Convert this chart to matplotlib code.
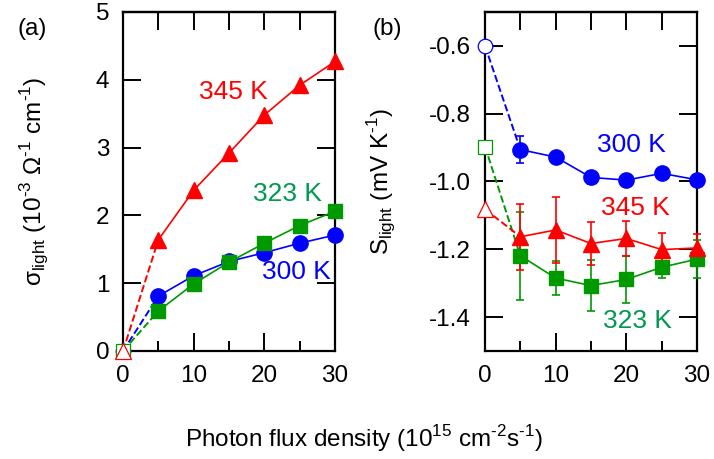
import matplotlib
matplotlib.use('Agg')
import matplotlib.pyplot as plt
import numpy as np

plt.rcParams['font.family'] = 'Liberation Sans'
plt.rcParams['mathtext.fontset'] = 'custom'
plt.rcParams['mathtext.rm'] = 'Liberation Sans'
plt.rcParams['axes.unicode_minus'] = False

RED = '#ff0000'
GREEN = '#009900'
GREEN_TXT = '#009950'
BLUE = '#0000ff'

# photon flux density (10^15 cm^-2 s^-1)
flux = [5, 10, 15, 20, 25, 30]

# (a) photoconductivity sigma_light (10^-3 Ohm^-1 cm^-1)
sig_dark = 0.0
sig_345 = [1.64, 2.37, 2.92, 3.48, 3.92, 4.27]
sig_323 = [0.59, 0.99, 1.31, 1.59, 1.85, 2.06]
sig_300 = [0.81, 1.11, 1.32, 1.45, 1.59, 1.71]

# (b) Seebeck coefficient S_light (mV K^-1), value at zero flux is the dark value
s_dark_300 = -0.60
s_dark_323 = -0.897
s_dark_345 = -1.082
s_300 = [-0.906, -0.928, -0.988, -0.996, -0.976, -0.995]
s_300_err = [0.04, 0.0, 0.02, 0.0, 0.0, 0.0]
s_345 = [-1.163, -1.143, -1.183, -1.168, -1.201, -1.196]
s_345_err = [0.097, 0.098, 0.063, 0.052, 0.05, 0.042]
s_323 = [-1.219, -1.285, -1.307, -1.289, -1.253, -1.229]
s_323_err = [0.13, 0.05, 0.075, 0.07, 0.033, 0.055]

HY = '\u2010'  # short hyphen for exponents


def style_axes(ax):
    ax.set_xlim(0, 30)
    ax.set_xticks([0, 10, 20, 30])
    ax.set_xticks([5, 15, 25], minor=True)
    ax.tick_params(which='both', direction='in', right=True, width=1.4,
                   labelsize=17.5, pad=10)
    ax.tick_params(which='major', length=13)
    ax.tick_params(which='minor', length=7)
    ax.tick_params(axis='x', which='minor', top=False)
    # top ticks all long
    top = ax.secondary_xaxis('top')
    top.set_xticks([5, 10, 15, 20, 25])
    top.tick_params(direction='in', length=13, width=1.4, labeltop=False)
    top.spines['top'].set_linewidth(1.6)
    for s in ax.spines.values():
        s.set_linewidth(1.6)


fig = plt.figure(figsize=(7.14, 4.59), dpi=100)
ax1 = fig.add_axes([0.1723, 0.2353, 0.2969, 0.7386])
ax2 = fig.add_axes([0.6793, 0.2353, 0.2969, 0.7386])

# ---- panel (a)
series_a = [(sig_300, BLUE, 'o', 11), (sig_323, GREEN, 's', 10.5),
            (sig_345, RED, '^', 11.5)]
for vals, c, m, ms in series_a:
    ax1.plot([0, flux[0]], [sig_dark, vals[0]], ls='--', color=c, lw=1.4,
             clip_on=False, zorder=2)
    ax1.plot(flux, vals, '-', color=c, lw=1.2, marker=m, ms=ms,
             mfc=c, mec=c, clip_on=False, zorder=3)
    ax1.plot([0], [sig_dark], marker=m, ms=ms * 0.95, mfc='white', mec=c,
             mew=0.9, clip_on=False, zorder=4)

ax1.set_ylim(0, 5)
ax1.set_yticks([0, 1, 2, 3, 4, 5])
style_axes(ax1)
ax1.text(15.6, 3.82, '345 K', color=RED, fontsize=19, ha='center', va='center')
ax1.text(23.2, 2.31, '323 K', color=GREEN_TXT, fontsize=19, ha='center', va='center')
ax1.text(24.6, 1.17, '300 K', color=BLUE, fontsize=19, ha='center', va='center')

# ---- panel (b)
series_b = [(s_dark_300, s_300, s_300_err, BLUE, 'o', 11),
            (s_dark_323, s_323, s_323_err, GREEN, 's', 10.5),
            (s_dark_345, s_345, s_345_err, RED, '^', 11.5)]
for dark, vals, err, c, m, ms in series_b:
    ax2.plot([0, flux[0]], [dark, vals[0]], ls='--', color=c, lw=1.4,
             clip_on=False, zorder=2)
    ax2.errorbar(flux, vals, yerr=err, fmt='-', color=c, lw=1.2,
                 elinewidth=1.2, capsize=3, capthick=1.2, marker=m, ms=ms,
                 mfc=c, mec=c, clip_on=False, zorder=3)
    ax2.plot([0], [dark], marker=m, ms=ms * 0.95, mfc='white', mec=c,
             mew=0.9, clip_on=False, zorder=4)

ax2.set_ylim(-1.5, -0.5)
ax2.set_yticks([-1.4, -1.2, -1.0, -0.8, -0.6])
ax2.set_yticklabels(['%.1f' % v for v in [-1.4, -1.2, -1.0, -0.8, -0.6]])
style_axes(ax2)
ax2.text(20.7, -0.893, '300 K', color=BLUE, fontsize=19, ha='center', va='center')
ax2.text(21.3, -1.079, '345 K', color=RED, fontsize=19, ha='center', va='center')
ax2.text(21.5, -1.4125, '323 K', color=GREEN_TXT, fontsize=19, ha='center', va='center')

# labels
fig.text(0.049, 0.605,
         'σ$_\\mathregular{light}$ (10$^\\mathregular{' + HY + '3}$ Ω$^\\mathregular{' + HY
         + '1}$ cm$^\\mathregular{' + HY + '1}$)',
         rotation=90, ha='center', va='center', fontsize=17.5)
fig.text(0.535, 0.605,
         'S$_\\mathregular{light}$ (mV K$^\\mathregular{' + HY + '1}$)',
         rotation=90, ha='center', va='center', fontsize=17.5)
fig.text(0.51, 0.045,
         'Photon flux density (10$^\\mathregular{15}$ cm$^\\mathregular{' + HY
         + '2}$s$^\\mathregular{' + HY + '1}$)',
         ha='center', va='center', fontsize=17.5)
fig.text(0.045, 0.937, '(a)', ha='center', va='center', fontsize=17.5)
fig.text(0.543, 0.937, '(b)', ha='center', va='center', fontsize=17.5)

fig.savefig('out.png', dpi=100)
